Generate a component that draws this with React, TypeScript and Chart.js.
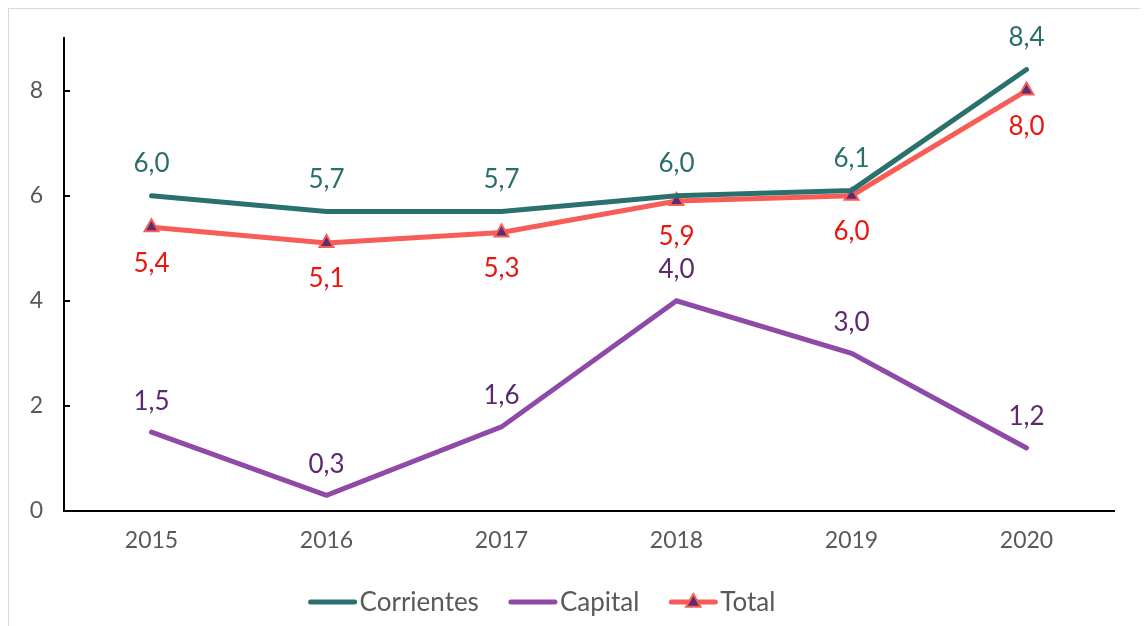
import React, { useEffect, useRef } from "react";
import { Chart, registerables } from "chart.js";

Chart.register(...registerables);

const years = ["2015", "2016", "2017", "2018", "2019", "2020"];
const corrientes = [6.0, 5.7, 5.7, 6.0, 6.1, 8.4];
const capital = [1.5, 0.3, 1.6, 4.0, 3.0, 1.2];
const total = [5.4, 5.1, 5.3, 5.9, 6.0, 8.0];
const yTicks = [0, 2, 4, 6, 8];
const seriesNames = ["Corrientes", "Capital", "Total"];

const FONT = "Lato";
const TEAL = "#2a716e";
const PURPLE = "#8f4aa8";
const CORAL = "#f85c57";
const MARKER = "#5c2d6c";
const LABEL_COLORS = ["#2b6f6d", "#5b2a6e", "#e8170f"];
const LABEL_OFFSETS = [-32, -31, 36];
const GRAY = "#595959";

const fmt = (v: number) => v.toFixed(1).replace(".", ",");

const extrasPlugin = {
  id: "extras",
  afterDatasetsDraw(chart: any) {
    const ctx = chart.ctx;
    const area = chart.chartArea;
    const yScale = chart.scales.y;
    ctx.save();
    // inward y tick marks
    ctx.strokeStyle = "#000";
    ctx.lineWidth = 2;
    yTicks.forEach((t) => {
      const y = Math.round(yScale.getPixelForValue(t));
      ctx.beginPath();
      ctx.moveTo(area.left, y);
      ctx.lineTo(area.left + 6, y);
      ctx.stroke();
    });
    // data labels
    ctx.font = `26px ${FONT}`;
    ctx.textAlign = "center";
    ctx.textBaseline = "middle";
    chart.data.datasets.forEach((ds: any, i: number) => {
      const meta = chart.getDatasetMeta(i);
      ctx.fillStyle = LABEL_COLORS[i];
      meta.data.forEach((pt: any, j: number) => {
        ctx.fillText(fmt(ds.data[j]), pt.x, pt.y + LABEL_OFFSETS[i]);
      });
    });
    // legend
    const colors = [TEAL, PURPLE, CORAL];
    const lineW = 48;
    const gapText = 3;
    const gapItem = 30;
    ctx.font = `26px ${FONT}`;
    ctx.textAlign = "left";
    const widths = seriesNames.map((n) => lineW + gapText + ctx.measureText(n).width);
    const totalW = widths.reduce((a, b) => a + b, 0) + gapItem * (seriesNames.length - 1);
    let x = 533 - totalW / 2;
    const ly = 593;
    seriesNames.forEach((n, i) => {
      ctx.strokeStyle = colors[i];
      ctx.lineWidth = 5;
      ctx.lineCap = "round";
      ctx.beginPath();
      ctx.moveTo(x + 2, ly);
      ctx.lineTo(x + lineW - 2, ly);
      ctx.stroke();
      if (i === 2) {
        const cx = x + lineW / 2;
        const r = 8;
        ctx.beginPath();
        ctx.moveTo(cx, ly - r);
        ctx.lineTo(cx + r * 0.9, ly + r * 0.6);
        ctx.lineTo(cx - r * 0.9, ly + r * 0.6);
        ctx.closePath();
        ctx.fillStyle = MARKER;
        ctx.fill();
        ctx.lineWidth = 2;
        ctx.lineJoin = "miter";
        ctx.strokeStyle = CORAL;
        ctx.stroke();
      }
      ctx.fillStyle = GRAY;
      ctx.fillText(n, x + lineW + gapText, ly + 1);
      x += widths[i] + gapItem;
    });
    ctx.restore();
  },
};

export default function App() {
  const ref = useRef<HTMLCanvasElement | null>(null);
  useEffect(() => {
    if (!ref.current) return;
    const chart = new Chart(ref.current, {
      type: "line",
      data: {
        labels: years,
        datasets: [
          {
            label: seriesNames[0],
            data: corrientes,
            borderColor: TEAL,
            backgroundColor: TEAL,
            borderWidth: 5,
            pointRadius: 0,
            borderCapStyle: "round",
            tension: 0,
          },
          {
            label: seriesNames[1],
            data: capital,
            borderColor: PURPLE,
            backgroundColor: PURPLE,
            borderWidth: 5,
            pointRadius: 0,
            borderCapStyle: "round",
            tension: 0,
          },
          {
            label: seriesNames[2],
            data: total,
            borderColor: CORAL,
            backgroundColor: MARKER,
            borderWidth: 5,
            pointStyle: "triangle",
            pointRadius: 8,
            pointBorderWidth: 2,
            pointBorderColor: CORAL,
            pointBackgroundColor: MARKER,
            borderCapStyle: "round",
            tension: 0,
          },
        ],
      },
      options: {
        animation: false,
        responsive: false,
        layout: { padding: { top: 29, right: 29, bottom: 55, left: 0 } },
        plugins: {
          legend: { display: false },
          tooltip: { enabled: false },
        },
        scales: {
          x: {
            offset: true,
            grid: { display: false, drawTicks: false },
            border: { display: true, color: "#000", width: 2 },
            ticks: {
              color: GRAY,
              font: { family: FONT, size: 23 },
              padding: 16,
              maxRotation: 0,
            },
            afterFit: (s: any) => {
              s.height = 60;
              s.paddingLeft = 0;
              s.paddingRight = 0;
            },
          },
          y: {
            min: 0,
            max: 9,
            grid: { display: false, drawTicks: false },
            border: { display: true, color: "#000", width: 2 },
            ticks: {
              stepSize: 2,
              includeBounds: false,
              color: GRAY,
              font: { family: FONT, size: 23 },
              padding: 21,
              callback: (v: any) => (yTicks.includes(Number(v)) ? String(v) : ""),
            },
            afterFit: (s: any) => {
              s.width = 55;
              s.paddingTop = 0;
              s.paddingBottom = 0;
            },
          },
        },
      },
      plugins: [extrasPlugin],
    });
    return () => chart.destroy();
  }, []);

  return (
    <div
      style={{
        width: 1134,
        height: 617,
        border: "1px solid #d9d9d9",
        borderBottom: "none",
        background: "#fff",
      }}
    >
      <canvas ref={ref} width={1134} height={617} style={{ display: "block" }} />
    </div>
  );
}
